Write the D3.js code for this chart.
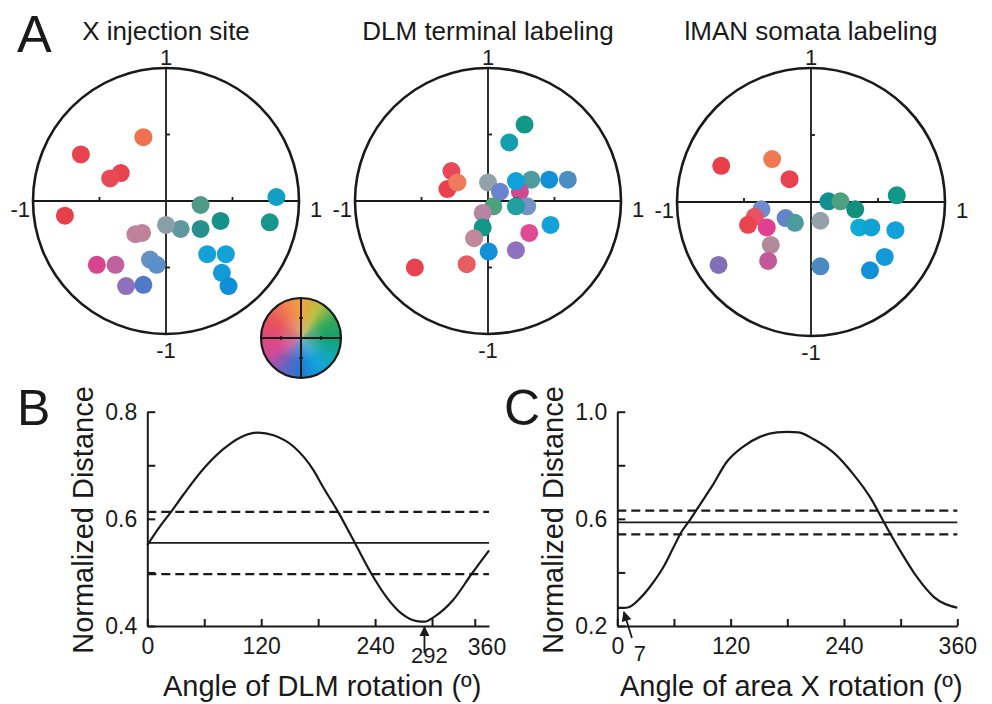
<!DOCTYPE html>
<html>
<head>
<meta charset="utf-8">
<script src="https://cdn.jsdelivr.net/npm/d3@7"></script>
<style>
body { margin: 0; background: #fff; }
text { font-family: "Liberation Sans", Arial, Helvetica, sans-serif; fill: #1a1a1a; }
.axis path, .axis line { stroke: #1a1a1a; stroke-width: 2; }
.axis text { font-size: 23px; }
</style>
</head>
<body>
<div id="fig"></div>
<script>
// ---- data ----
// panel A: dot positions in unit-circle coords, plus the colour of each dot
var injectionPts = [[-0.17,0.48],[-0.64,0.35],[-0.34,0.21],[-0.42,0.17],[-0.76,-0.11],[0.26,-0.03],[0.83,0.03],[0.78,-0.16],
    [0.41,-0.15],[0.26,-0.21],[0.11,-0.21],[0.00,-0.18],[-0.23,-0.25],[-0.18,-0.24],[0.31,-0.40],[0.45,-0.40],
    [0.42,-0.54],[0.47,-0.64],[-0.12,-0.44],[-0.07,-0.48],[-0.52,-0.48],[-0.38,-0.48],[-0.30,-0.64],[-0.17,-0.63]];
var injectionColors = ["#ef7150","#e8434f","#e8434f","#e84a55","#e8404a","#4e9a86","#119fc4","#17978c",
    "#15918a","#26908f","#5c989e","#8b9ea8","#bf819c","#c0829b","#12a2d8","#12a2d8",
    "#1199d8","#0f8fd6","#6591c4","#5b8fc9","#d8448e","#c0609e","#8f6fbe","#5079c8"];

var dlmPts = [[0.275,0.575],[0.16,0.44],[-0.275,0.225],[-0.305,0.09],[-0.23,0.14],[0.00,0.14],[0.325,0.16],[0.46,0.16],
    [0.60,0.16],[0.24,0.07],[0.21,0.15],[0.09,0.07],[0.21,0.00],[0.295,-0.04],[0.21,-0.04],[0.04,-0.04],
    [-0.04,-0.09],[-0.04,-0.20],[-0.105,-0.28],[0.005,-0.38],[0.21,-0.37],[0.31,-0.24],[0.47,-0.18],[-0.55,-0.50],[-0.16,-0.475]];
var dlmColors = ["#119888","#139fae","#e84858","#e84050","#f07b5c","#93a1a9","#4f9b9f","#1090d8",
    "#4b8fc2","#d04a92","#10a2d8","#6a84d0","#222222","#7592c3","#21a0a0","#4fa07f",
    "#b585a3","#119888","#c0889a","#1090d8","#8f72bf","#e04a92","#10a2d8","#e8424e","#e85c62"];

var lmanPts = [[-0.67,0.27],[-0.29,0.32],[-0.16,0.17],[0.64,0.05],[0.13,0.005],[0.22,0.005],[0.33,-0.055],[-0.37,-0.055],
    [-0.42,-0.11],[-0.47,-0.17],[-0.33,-0.19],[-0.19,-0.12],[-0.12,-0.155],[0.07,-0.14],[0.36,-0.19],[0.45,-0.19],
    [0.63,-0.21],[-0.30,-0.32],[-0.32,-0.44],[-0.69,-0.47],[0.07,-0.48],[0.55,-0.41],[0.44,-0.51]];
var lmanColors = ["#e8404a","#ef7a52","#e84152","#119888","#128f90","#4f9f82","#138f80","#6d8bd0",
    "#e85262","#e8454f","#e0408f","#6283c9","#4c9b9f","#93a2a9","#10aad8","#10a2d0",
    "#10a2d8","#b28a9a","#c2599a","#8170b8","#4b89c1","#119ad8","#1090d8"];

var panelTitles = ["X injection site", "DLM terminal labeling", "lMAN somata labeling"];

// colour key wheel: hue stops by angle (deg, counter-clockwise from +x)
var wheelAngles = [0, 30, 60, 90, 120, 150, 180, 210, 240, 270, 300, 330, 360];
var wheelColors = ["#10a070","#30a858","#b8c040","#f0a040","#f07a50","#e85058","#e04878",
    "#d04898","#6a60c0","#2078d0","#10a0e0","#10a8b0","#10a070"];

// panel B: distance vs DLM rotation
var dlmAngles = [0,13,25,38,59,80,98,117,133,154,175,185,201,219,236,252,268,284,292,303,322,342,360];
var dlmDist = [0.551,0.585,0.613,0.645,0.693,0.730,0.752,0.761,0.756,0.735,0.691,0.660,0.613,0.554,0.498,0.454,0.423,0.409,0.408,0.418,0.448,0.498,0.541];
var dlmLevels = [0.613, 0.555, 0.497];   // upper dashed, mean, lower dashed
var dlmMinAngle = 292;

// panel C: distance vs area X rotation
var areaAngles = [0,7,12,24,36,49,59,68,77,86,100,116,133,151,169,180,192,208,229,250,268,283,299,317,335,360];
var areaDist = [0.268,0.268,0.270,0.303,0.353,0.421,0.490,0.552,0.596,0.645,0.720,0.813,0.869,0.906,0.923,0.925,0.923,0.897,0.847,0.766,0.679,0.583,0.484,0.384,0.309,0.268];
var areaLevels = [0.631, 0.587, 0.542];
var areaMinAngle = 7;

// ---- drawing ----
var svg = d3.select("#fig").append("svg")
    .attr("width", 992)
    .attr("height", 704);

var defs = svg.append("defs");
defs.append("marker")
    .attr("id", "head")
    .attr("viewBox", "0 0 10 10")
    .attr("refX", 9).attr("refY", 5)
    .attr("markerWidth", 11).attr("markerHeight", 10)
    .attr("markerUnits", "userSpaceOnUse")
    .attr("orient", "auto")
    .append("path")
    .attr("d", "M0,0L10,5L0,10z")
    .attr("fill", "#1a1a1a");

function polarPanel(cx, cy, r, pts, colors, title) {
    var x = d3.scaleLinear().domain([-1, 1]).range([cx - r, cx + r]);
    var y = d3.scaleLinear().domain([-1, 1]).range([cy + r, cy - r]);
    var g = svg.append("g");

    g.append("text")
        .attr("x", cx).attr("y", 40)
        .attr("text-anchor", "middle")
        .attr("font-size", "26px")
        .text(title);

    // cross-hair axes with ticks at +-0.5
    g.append("line").attr("x1", x(-1)).attr("x2", x(1)).attr("y1", y(0)).attr("y2", y(0))
        .attr("stroke", "#1a1a1a").attr("stroke-width", 1.8);
    g.append("line").attr("x1", x(0)).attr("x2", x(0)).attr("y1", y(-1)).attr("y2", y(1))
        .attr("stroke", "#1a1a1a").attr("stroke-width", 1.8);
    [-0.5, 0.5].forEach(function(v) {
        g.append("line").attr("x1", x(v)).attr("x2", x(v)).attr("y1", y(0) - 4).attr("y2", y(0))
            .attr("stroke", "#1a1a1a").attr("stroke-width", 1.8);
        g.append("line").attr("x1", x(0)).attr("x2", x(0) + 4).attr("y1", y(v)).attr("y2", y(v))
            .attr("stroke", "#1a1a1a").attr("stroke-width", 1.8);
    });

    g.selectAll("circle.dot")
        .data(pts)
        .enter().append("circle")
        .attr("class", "dot")
        .attr("cx", function(d) { return x(d[0]); })
        .attr("cy", function(d) { return y(d[1]); })
        .attr("r", function(d, i) { return colors[i] === "#222222" ? 4 : 9; })
        .attr("fill", function(d, i) { return colors[i]; });

    g.append("circle")
        .attr("cx", cx).attr("cy", cy).attr("r", r)
        .attr("fill", "none")
        .attr("stroke", "#1a1a1a")
        .attr("stroke-width", 2.6);

    // -1 / 1 labels
    g.append("text").attr("x", x(0)).attr("y", y(1) - 3).attr("text-anchor", "middle").attr("font-size", "22px").text("1");
    g.append("text").attr("x", x(0)).attr("y", y(-1) + 24).attr("text-anchor", "middle").attr("font-size", "22px").text("-1");
    g.append("text").attr("x", x(-1) - 3).attr("y", y(0) + 16).attr("text-anchor", "end").attr("font-size", "22px").text("-1");
    g.append("text").attr("x", x(1) + 11).attr("y", y(0) + 16).attr("font-size", "22px").text("1");
}

polarPanel(166, 201, 133, injectionPts, injectionColors, panelTitles[0]);
polarPanel(488, 201, 133, dlmPts, dlmColors, panelTitles[1]);
polarPanel(811, 202, 134, lmanPts, lmanColors, panelTitles[2]);

// colour key wheel
(function() {
    var cx = 301, cy = 338, r = 40, n = 120, step = 360 / n;
    var hue = d3.scaleLinear().domain(wheelAngles).range(wheelColors).interpolate(d3.interpolateRgb);
    var arc = d3.arc().innerRadius(0).outerRadius(r);
    var g = svg.append("g").attr("transform", "translate(" + cx + "," + cy + ")");
    var slices = d3.range(n);
    g.selectAll("path.slice")
        .data(slices)
        .enter().append("path")
        .attr("class", "slice")
        .attr("d", function(i) {
            return arc({startAngle: (90 - (i + 1) * step) * Math.PI / 180, endAngle: (90 - i * step) * Math.PI / 180});
        })
        .attr("fill", function(i) { return hue((i + 0.5) * step); })
        .attr("stroke", function(i) { return hue((i + 0.5) * step); })
        .attr("stroke-width", 0.8);

    var rg = defs.append("radialGradient").attr("id", "fade");
    rg.append("stop").attr("offset", "0%").attr("stop-color", "#c8b8bc").attr("stop-opacity", 0.55);
    rg.append("stop").attr("offset", "60%").attr("stop-color", "#c8c0c0").attr("stop-opacity", 0);
    g.append("circle").attr("r", r).attr("fill", "url(#fade)");

    g.append("line").attr("x1", -r).attr("x2", r).attr("stroke", "#1a1a1a").attr("stroke-width", 2);
    g.append("line").attr("y1", -r).attr("y2", r).attr("stroke", "#1a1a1a").attr("stroke-width", 2);
    [-0.5, 0.5].forEach(function(v) {
        g.append("line").attr("x1", v * r).attr("x2", v * r).attr("y1", -2).attr("y2", 2).attr("stroke", "#1a1a1a").attr("stroke-width", 1.5);
        g.append("line").attr("x1", -2).attr("x2", 2).attr("y1", v * r).attr("y2", v * r).attr("stroke", "#1a1a1a").attr("stroke-width", 1.5);
    });
    g.append("circle").attr("r", r).attr("fill", "none").attr("stroke", "#1a1a1a").attr("stroke-width", 2.2);
})();

function curvePanel(o) {
    var xScale = d3.scaleLinear().domain([0, 360]).range([o.left, o.right]);
    var yScale = d3.scaleLinear().domain(o.yDomain).range([626, 411.7]);
    var g = svg.append("g");

    // x axis, ticks pointing up into the plot
    g.append("g")
        .attr("class", "axis")
        .attr("transform", "translate(0,626)")
        .call(d3.axisBottom(xScale)
            .tickValues(o.xTicks)
            .tickSizeInner(-7)
            .tickSizeOuter(0)
            .tickPadding(12)
            .tickFormat(function(d) { return o.xLabels.indexOf(d) >= 0 ? d : ""; }));

    // y axis, ticks pointing right
    g.append("g")
        .attr("class", "axis")
        .attr("transform", "translate(" + o.left + ",0)")
        .call(d3.axisLeft(yScale)
            .tickValues(o.yTicks)
            .tickSizeInner(-8)
            .tickSizeOuter(0)
            .tickPadding(10)
            .tickFormat(function(d) { return o.yLabels.indexOf(d) >= 0 ? d3.format(".1f")(d) : ""; }));

    // chance level lines
    o.levels.forEach(function(v, i) {
        g.append("line")
            .attr("x1", o.left).attr("x2", o.right)
            .attr("y1", yScale(v)).attr("y2", yScale(v))
            .attr("stroke", "#1a1a1a")
            .attr("stroke-width", i === 1 ? 1.8 : 2.2)
            .style("stroke-dasharray", i === 1 ? null : "9,5");
    });

    var line = d3.line()
        .x(function(d) { return xScale(d[0]); })
        .y(function(d) { return yScale(d[1]); })
        .curve(d3.curveMonotoneX);

    g.append("path")
        .datum(o.angles.map(function(a, i) { return [a, o.dist[i]]; }))
        .attr("fill", "none")
        .attr("stroke", "#1a1a1a")
        .attr("stroke-width", 2.2)
        .attr("d", line);

    // arrow to the minimum
    var ax = xScale(o.minAngle);
    g.append("line")
        .attr("x1", ax + o.arrowDx).attr("y1", o.arrowTipY + 26)
        .attr("x2", ax + o.arrowTipDx).attr("y2", o.arrowTipY)
        .attr("stroke", "#1a1a1a").attr("stroke-width", 1.8)
        .attr("marker-end", "url(#head)");
    g.append("text")
        .attr("x", ax + o.labelDx).attr("y", o.labelY)
        .attr("text-anchor", "middle")
        .attr("font-size", "22px")
        .text(o.minAngle);

    // axis titles
    g.append("text")
        .attr("transform", "translate(" + (o.left - 54) + ",520) rotate(-90)")
        .attr("text-anchor", "middle")
        .attr("font-size", "29px")
        .text("Normalized Distance");
    g.append("text")
        .attr("x", (o.left + o.right) / 2 + o.xTitleDx).attr("y", 696)
        .attr("text-anchor", "middle")
        .attr("font-size", "29px")
        .text(o.xTitle);

    g.append("text")
        .attr("x", o.letterX).attr("y", 425)
        .attr("font-size", "50px")
        .text(o.letter);
}

curvePanel({
    left: 147.3, right: 489, yDomain: [0.4, 0.8],
    xTicks: [0, 60, 120, 180, 240, 300, 345], xLabels: [0, 120, 240],
    yTicks: [0.4, 0.5, 0.6, 0.7, 0.8], yLabels: [0.4, 0.6, 0.8],
    levels: dlmLevels, angles: dlmAngles, dist: dlmDist,
    minAngle: dlmMinAngle, arrowDx: 0, arrowTipDx: 0, arrowTipY: 627, labelDx: 5, labelY: 663,
    xTitle: "Angle of DLM rotation (º)", xTitleDx: 4, letter: "B", letterX: 17
});

// 360 label of panel B sits at the end of the axis without a tick
svg.append("text")
    .attr("x", 487).attr("y", 655)
    .attr("text-anchor", "middle")
    .attr("font-size", "23px")
    .text("360");

curvePanel({
    left: 617.3, right: 957.3, yDomain: [0.2, 1.0],
    xTicks: [0, 60, 120, 180, 240, 300, 360], xLabels: [0, 120, 240, 360],
    yTicks: [0.2, 0.4, 0.6, 0.8, 1.0], yLabels: [0.2, 0.6, 1.0],
    levels: areaLevels, angles: areaAngles, dist: areaDist,
    minAngle: areaMinAngle, arrowDx: 8, arrowTipDx: 0, arrowTipY: 612, labelDx: 16, labelY: 661,
    xTitle: "Angle of area X rotation (º)", xTitleDx: 4, letter: "C", letterX: 504
});

svg.append("text")
    .attr("x", 17).attr("y", 52)
    .attr("font-size", "52px")
    .text("A");
</script>
</body>
</html>
